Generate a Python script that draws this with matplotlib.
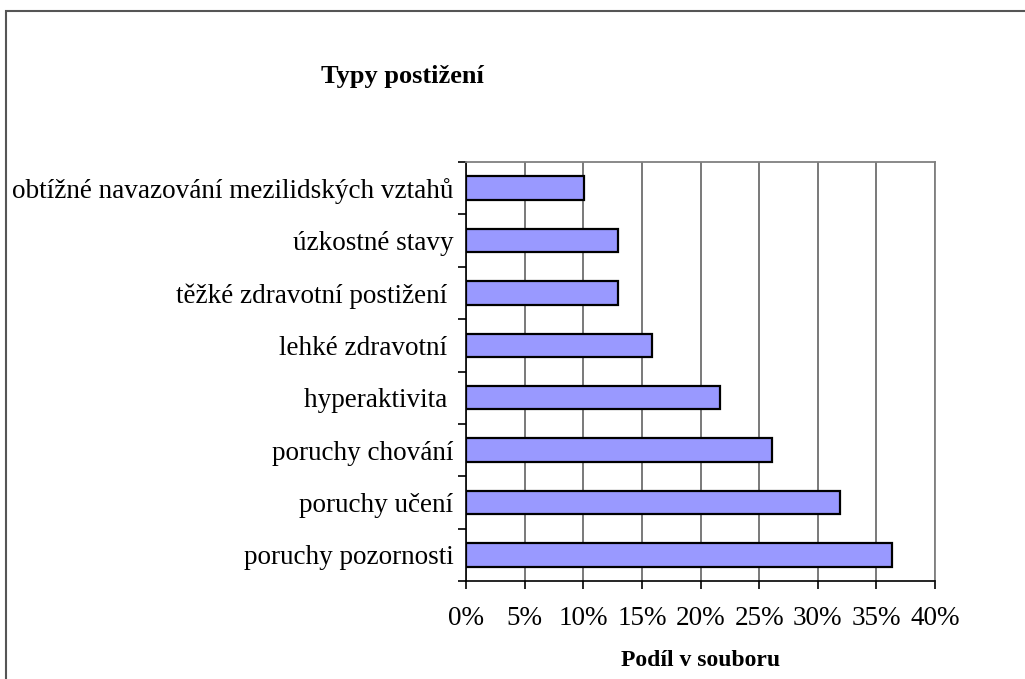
import matplotlib.pyplot as plt
from matplotlib.patches import Rectangle
from matplotlib.ticker import FuncFormatter, FixedLocator

# categories listed bottom to top
categories = ['poruchy pozornosti', 'poruchy učení', 'poruchy chování', 'hyperaktivita ',
              'lehké zdravotní ', 'těžké zdravotní postižení ', 'úzkostné stavy',
              'obtížné navazování mezilidských vztahů']
shares = [36.3, 31.9, 26.1, 21.7, 15.9, 13.0, 13.0, 10.1]
x_ticks = [0, 5, 10, 15, 20, 25, 30, 35, 40]

plt.rcParams['font.family'] = ['Liberation Serif', 'DejaVu Serif']

fig = plt.figure(figsize=(10.25, 6.79), dpi=100)
ax = fig.add_axes([466 / 1025, 1 - 581 / 679, (935 - 466) / 1025, (581 - 162) / 679])

pos = list(range(len(categories)))
ax.barh(pos, shares, height=0.45, color='#9999ff', edgecolor='black', linewidth=1.6, zorder=3)

ax.set_xlim(0, 40)
ax.set_ylim(-0.5, len(categories) - 0.5)
ax.set_xticks(x_ticks)
ax.xaxis.set_major_formatter(FuncFormatter(lambda v, p: f'{v:.0f}%'))
ax.grid(axis='x', color='#6e6e6e', linewidth=1.3, zorder=0)

# category labels centred, tick marks on boundaries
ax.set_yticks(pos)
ax.set_yticklabels(categories)
ax.yaxis.set_minor_locator(FixedLocator([p - 0.5 for p in pos] + [len(pos) - 0.5]))
ax.tick_params(axis='y', which='major', length=0, pad=9, labelsize=19.5)
ax.tick_params(axis='y', which='minor', length=6, width=1.2, direction='out')
ax.tick_params(axis='x', length=6, width=1.2, direction='out', pad=12, labelsize=19.5)

for s in ['top', 'right']:
    ax.spines[s].set_color('#808080')
    ax.spines[s].set_linewidth(1.3)
for s in ['left', 'bottom']:
    ax.spines[s].set_color('black')
    ax.spines[s].set_linewidth(1.2)

ax.set_xlabel('Podíl v souboru', fontsize=17, fontweight='bold', labelpad=14)
fig.text(402 / 1025, 1 - 76 / 679, 'Typy postižení', fontsize=19, fontweight='bold',
         ha='center', va='center')

# outer chart border
fig.patches.append(Rectangle((6 / 1025, -0.05), 1.2, 1 - 11 / 679 + 0.05,
                             transform=fig.transFigure, fill=False,
                             edgecolor='#555555', linewidth=1.5))

fig.savefig('out.png', dpi=100)
